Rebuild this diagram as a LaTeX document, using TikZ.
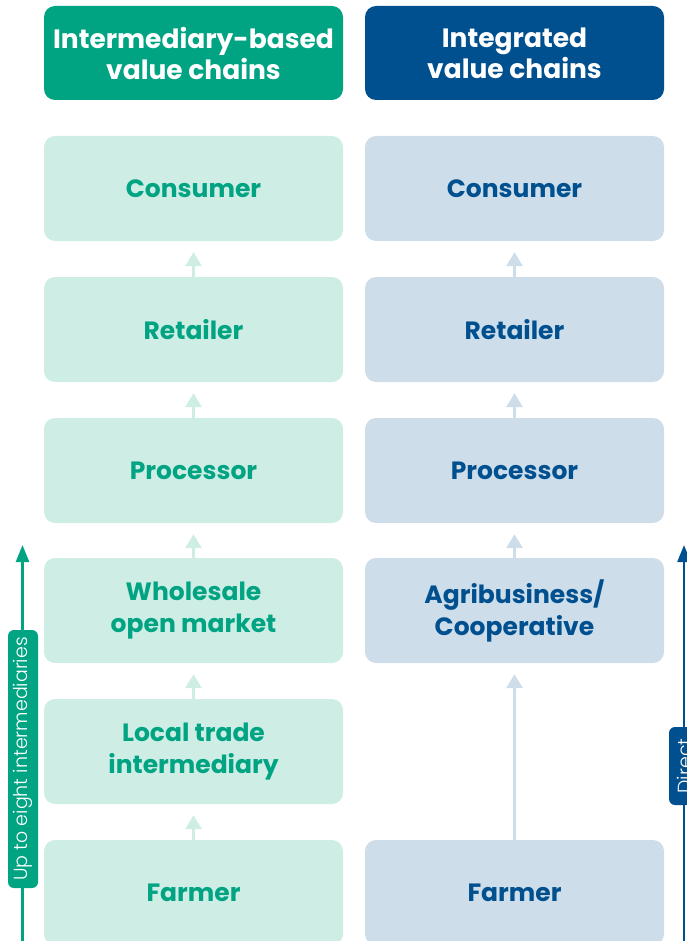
\documentclass[tikz,border=0pt]{standalone}
\usepackage{fontspec}
\setmainfont{Poppins}
\newfontfamily\thinfont{Poppins Light}
\usetikzlibrary{arrows.meta}
\definecolor{chaingreen}{HTML}{00A382}
\definecolor{chainmint}{HTML}{CDEDE5}
\definecolor{chainblue}{HTML}{00508F}
\definecolor{chainpale}{HTML}{CEDDEA}
\begin{document}
\begin{tikzpicture}[x=1pt,y=-1pt]
    \tikzset{head/.style={rounded corners=11pt, minimum width=299pt, minimum height=94pt, align=center, text=white, font=\bfseries\fontsize{26.5}{31}\selectfont},
             stage/.style={rounded corners=11pt, minimum width=299pt, minimum height=105pt, align=center, font=\bfseries\fontsize{25}{32}\selectfont},
             green stage/.style={stage, fill=chainmint, text=chaingreen},
             blue stage/.style={stage, fill=chainpale, text=chainblue},
             step arrow/.style={line width=3pt, shorten >=11pt, -{Triangle[width=16pt,length=14pt]}},
             span arrow/.style={line width=2.5pt, -{Triangle[width=13pt,length=17pt]}},
             span label/.style={rotate=90, rounded corners=6pt, minimum height=30pt, text=white, font=\thinfont\fontsize{19}{22}\selectfont}}
    \useasboundingbox (0,0) rectangle (687,941);
    \clip (0,0) rectangle (687,941);
    % headers
    \node[head, fill=chaingreen] (hleft) at (193.5,53) {Intermediary-based\\value chains};
    \node[head, fill=chainblue] (hright) at (514.5,53) {Integrated\\value chains};
    % intermediary-based chain
    \node[green stage] (lcon) at (193.5,188.5) {Consumer};
    \node[green stage] (lret) at (193.5,329.5) {Retailer};
    \node[green stage] (lpro) at (193.5,470.5) {Processor};
    \node[green stage] (lwho) at (193.5,610.5) {Wholesale\\open market};
    \node[green stage] (lloc) at (193.5,751.5) {Local trade\\intermediary};
    \node[green stage] (lfar) at (193.5,892.5) {Farmer};
    \draw[step arrow, chainmint] (lret) -- (lcon);
    \draw[step arrow, chainmint] (lpro) -- (lret);
    \draw[step arrow, chainmint] (lwho) -- (lpro);
    \draw[step arrow, chainmint] (lloc) -- (lwho);
    \draw[step arrow, chainmint] (lfar) -- (lloc);
    % integrated chain
    \node[blue stage] (rcon) at (514.5,188.5) {Consumer};
    \node[blue stage] (rret) at (514.5,329.5) {Retailer};
    \node[blue stage] (rpro) at (514.5,470.5) {Processor};
    \node[blue stage] (ragr) at (514.5,610.5) {Agribusiness/\\Cooperative};
    \node[blue stage] (rfar) at (514.5,892.5) {Farmer};
    \draw[step arrow, chainpale] (rret) -- (rcon);
    \draw[step arrow, chainpale] (rpro) -- (rret);
    \draw[step arrow, chainpale] (ragr) -- (rpro);
    \draw[step arrow, chainpale] (rfar) -- (ragr);
    % side arrows
    \coordinate (lbot) at (22.5,945);
    \coordinate (ltop) at (22.5,545);
    \coordinate (rbot) at (684,945);
    \coordinate (rtop) at (684,545);
    \draw[span arrow, chaingreen] (lbot) -- (ltop);
    \draw[span arrow, chainblue] (rbot) -- (rtop);
    \node[span label, fill=chaingreen, minimum width=258pt] (lspan) at (23,759) {Up to eight intermediaries};
    \node[span label, fill=chainblue, minimum width=78pt] (rspan) at (684,766) {Direct};
\end{tikzpicture}
\end{document}
